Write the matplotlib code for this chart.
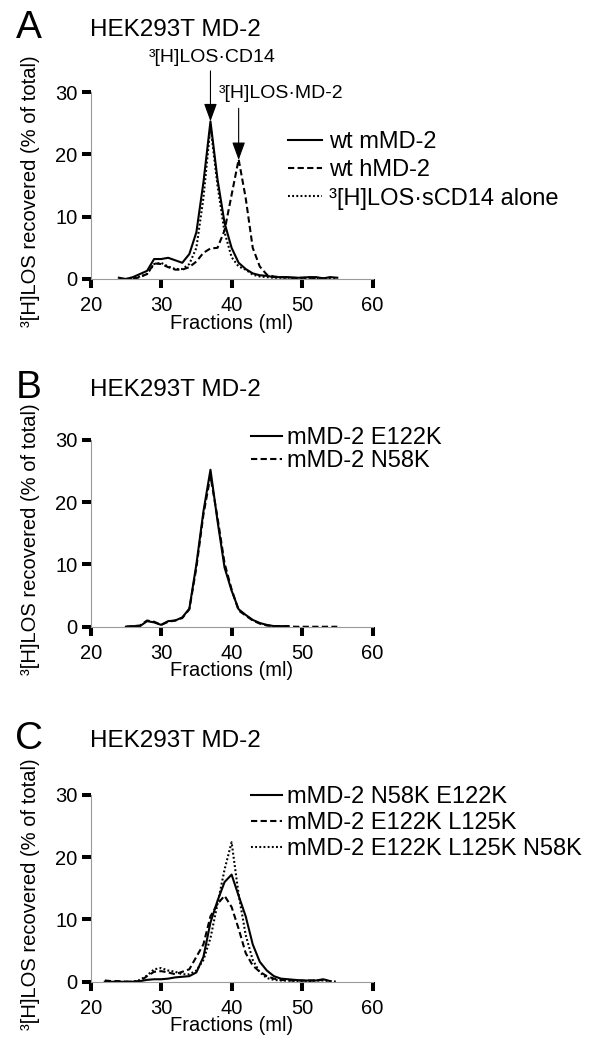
import matplotlib
matplotlib.use("Agg")
import matplotlib.pyplot as plt

plt.rcParams['font.family'] = ['Liberation Sans', 'DejaVu Sans']

# Panel A: wild-type MD-2
a_fr_solid = list(range(24, 56))
a_wt_mmd2 = [0.2, 0.0, 0.3, 0.8, 1.3, 3.2, 3.2, 3.4, 3.0, 2.6, 4.0, 7.5, 15.5, 25.3, 16.0,
             9.0, 5.0, 2.6, 1.6, 0.9, 0.6, 0.5, 0.3, 0.3, 0.3, 0.2, 0.2, 0.3, 0.3, 0.1, 0.3, 0.2]
a_fr_dash = list(range(26, 55))
a_wt_hmd2 = [0.0, 0.3, 0.8, 2.5, 2.4, 1.9, 1.5, 1.5, 1.9, 2.8, 4.2, 4.9, 5.0, 7.8, 13.5,
             19.2, 13.0, 5.0, 2.0, 0.7, 0.4, 0.3, 0.2, 0.2, 0.2, 0.2, 0.1, 0.1, 0.2]
a_fr_dot = list(range(25, 56))
a_scd14 = [0.0, 0.1, 0.4, 0.8, 2.4, 2.6, 2.0, 1.6, 1.6, 2.4, 5.0, 13.0, 24.5, 15.0, 7.5,
           3.5, 2.0, 1.5, 0.7, 0.4, 0.3, 0.2, 0.2, 0.2, 0.1, 0.1, 0.2, 0.1, 0.1, 0.2, 0.1]

# Panel B: single mutants
b_fr_solid = list(range(25, 49))
b_e122k = [0.0, 0.1, 0.1, 0.9, 0.7, 0.3, 0.9, 1.0, 1.5, 2.9, 10.0, 18.5, 25.2, 17.0,
           9.5, 5.8, 2.8, 1.9, 1.1, 0.6, 0.3, 0.1, 0.1, 0.1]
b_fr_dash = list(range(25, 56))
b_n58k = [0.0, 0.1, 0.2, 1.0, 0.8, 0.3, 0.8, 1.0, 1.4, 2.8, 9.5, 18.0, 24.2, 17.5,
          10.2, 6.0, 2.6, 1.8, 1.0, 0.5, 0.2, 0.1, 0.1, 0.1, 0.0, 0.0, 0.0, 0.0, 0.0, 0.0, 0.0]

# Panel C: double / triple mutants
c_fr_solid = list(range(22, 55))
c_n58k_e122k = [0.0, 0.0, 0.0, 0.0, 0.0, 0.1, 0.3, 0.4, 0.4, 0.5, 0.7, 0.8, 0.9, 1.5,
                4.0, 9.5, 13.0, 16.0, 17.2, 13.8, 10.5, 6.0, 3.2, 1.8, 0.9, 0.5, 0.4,
                0.3, 0.2, 0.2, 0.2, 0.4, 0.1]
c_fr_dash = list(range(22, 54))
c_e122k_l125k = [0.2, 0.1, 0.1, 0.0, 0.0, 0.1, 0.9, 1.6, 1.7, 1.5, 1.2, 1.6, 2.0, 4.0,
                 6.0, 10.5, 12.5, 13.8, 12.0, 8.5, 4.6, 2.6, 1.6, 0.9, 0.5, 0.3, 0.2,
                 0.2, 0.2, 0.2, 0.2, 0.3]
c_fr_dot = list(range(25, 56))
c_triple = [0.0, 0.0, 0.3, 1.0, 2.0, 2.2, 1.8, 1.6, 1.2, 1.2, 1.8, 3.5, 7.0, 12.5, 18.0,
            22.4, 14.0, 7.5, 3.5, 1.5, 0.6, 0.3, 0.2, 0.2, 0.1, 0.1, 0.1, 0.2, 0.2, 0.1, 0.0]

x_ticks = [20, 30, 40, 50, 60]
y_ticks = [0, 10, 20, 30]

SOLID = '-'
DASH = (0, (3.0, 1.6))
DOT = (0, (0.9, 1.1))
LW = 1.5


def style_axes(ax):
    ax.set_xlim(20, 60)
    ax.set_ylim(0, 30)
    ax.set_xticks(x_ticks)
    ax.set_yticks(y_ticks)
    for side in ('top', 'right'):
        ax.spines[side].set_visible(False)
    for side in ('left', 'bottom'):
        ax.spines[side].set_color('#9a9a9a')
        ax.spines[side].set_linewidth(0.8)
    ax.tick_params(axis='both', direction='out', length=6.5, width=2.9,
                   color='black', labelsize=14.5)
    ax.tick_params(axis='y', pad=3)
    ax.tick_params(axis='x', pad=6)
    ax.set_xlabel('Fractions (ml)', fontsize=14.5)
    ax.set_ylabel('³[H]LOS recovered (% of total)', fontsize=14.5)
    ax.xaxis.set_label_coords(0.5, -0.185)
    ax.yaxis.set_label_coords(-0.18, 0.47)


fig = plt.figure(figsize=(6.07, 10.5), dpi=100)
left, width, height = 0.1494, 0.4643, 0.178
axA = fig.add_axes([left, 0.7343, width, height])
axB = fig.add_axes([left, 0.4031, width, height])
axC = fig.add_axes([left, 0.0650, width, height])

# ---- A
axA.plot(a_fr_solid, a_wt_mmd2, color='black', lw=LW, ls=SOLID, label='wt mMD-2')
axA.plot(a_fr_dash, a_wt_hmd2, color='black', lw=LW, ls=DASH, label='wt hMD-2')
axA.plot(a_fr_dot, a_scd14, color='black', lw=LW, ls=DOT, label='³[H]LOS·sCD14 alone')
style_axes(axA)
axA.legend(loc='upper left', bbox_to_anchor=(0.70, 0.79), frameon=False, fontsize=17,
           handlelength=1.45, handletextpad=0.3, labelspacing=0.26,
           borderpad=0, borderaxespad=0)
arrow = dict(arrowstyle='-|>,head_length=1.1,head_width=0.4', color='black',
             lw=0.8, mutation_scale=10, shrinkA=0, shrinkB=0)
axA.annotate('', xy=(37, 25.3), xytext=(37, 33.4), arrowprops=arrow, annotation_clip=False)
axA.annotate('', xy=(41, 19.1), xytext=(41, 27.4), arrowprops=arrow, annotation_clip=False)
axA.text(37.3, 34.9, '³[H]LOS·CD14', fontsize=14, ha='center', va='baseline', clip_on=False)
axA.text(47.0, 29.0, '³[H]LOS·MD-2', fontsize=14, ha='center', va='baseline', clip_on=False)

# ---- B
axB.plot(b_fr_solid, b_e122k, color='black', lw=LW, ls=SOLID, label='mMD-2 E122K')
axB.plot(b_fr_dash, b_n58k, color='black', lw=LW, ls=DASH, label='mMD-2 N58K')
style_axes(axB)
axB.legend(loc='upper left', bbox_to_anchor=(0.569, 1.069), frameon=False, fontsize=17,
           handlelength=1.32, handletextpad=0.2, labelspacing=0.05,
           borderpad=0, borderaxespad=0)

# ---- C
axC.plot(c_fr_solid, c_n58k_e122k, color='black', lw=LW, ls=SOLID, label='mMD-2 N58K E122K')
axC.plot(c_fr_dash, c_e122k_l125k, color='black', lw=LW, ls=DASH, label='mMD-2 E122K L125K')
axC.plot(c_fr_dot, c_triple, color='black', lw=LW, ls=DOT, label='mMD-2 E122K L125K N58K')
style_axes(axC)
axC.legend(loc='upper left', bbox_to_anchor=(0.569, 1.046), frameon=False, fontsize=17,
           handlelength=1.32, handletextpad=0.2, labelspacing=0.16,
           borderpad=0, borderaxespad=0)

# panel letters and titles
for letter, ybase in (('A', 0.9638), ('B', 0.6210), ('C', 0.2865)):
    fig.text(0.0255, ybase, letter, fontsize=28, va='baseline', ha='left')
    fig.text(0.1478, ybase + 0.002, 'HEK293T MD-2', fontsize=17.5, va='baseline', ha='left')

fig.savefig('out.png', dpi=100)
